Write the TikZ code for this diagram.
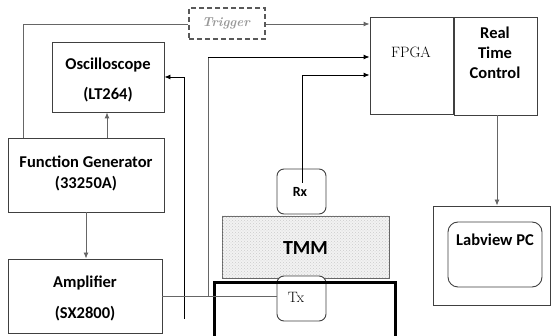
\documentclass[tikz,border=0pt]{standalone}
\usepackage{fontspec}
\newfontfamily\calfont{Carlito}
\usetikzlibrary{arrows.meta,patterns}
\begin{document}
\begin{tikzpicture}[x=1pt,y=-1pt,
  box/.style={draw=black!75,line width=0.9pt,fill=white,inner sep=0pt},
  rbox/.style={box,rounded corners=7pt},
  lbl/.style={font=\calfont\bfseries\fontsize{16.5}{30}\selectfont,align=center,inner sep=0pt},
  ln/.style={draw=black!60,line width=0.9pt},
  lnb/.style={draw=black,line width=0.9pt},
  arr/.style={-{Latex[length=6pt,width=5pt]}}
]
\useasboundingbox (0,0) rectangle (552,336);
% boxes
\node[box,minimum width=112pt,minimum height=70pt] (osc) at (108,77) {};
\node[lbl] (osct) at (108,80) {Oscilloscope\\(LT264)};
\node[box,minimum width=156pt,minimum height=74pt] (fg) at (86,175) {};
\node[lbl,font=\calfont\bfseries\fontsize{16.5}{21}\selectfont] (fgt) at (86,173) {Function Generator\\(33250A)};
\node[box,minimum width=154pt,minimum height=74pt] (amp) at (85,296) {};
\node[lbl,font=\calfont\bfseries\fontsize{16.5}{31}\selectfont] (ampt) at (85,298) {Amplifier\\(SX2800)};
\node[box,draw=black!65,line width=1.1pt,dash pattern=on 5pt off 3pt,minimum width=76pt,minimum height=31pt] (trig) at (227,23.5) {};
\node[font=\itshape\bfseries\fontsize{13}{15}\selectfont,text=black!40,inner sep=0pt] (trigt) at (226,23) {Trigger};
\node[box,minimum width=83pt,minimum height=97pt] (fpga) at (411.5,65.5) {};
\node[font=\fontsize{15}{16}\selectfont,inner sep=0pt] (fpgat) at (411,52) {FPGA};
\node[box,minimum width=83pt,minimum height=98pt] (rtc) at (495.5,66) {};
\node[lbl,font=\calfont\bfseries\fontsize{16.5}{20}\selectfont] (rtct) at (495,53) {Real\\Time\\Control};
\node[box,minimum width=117pt,minimum height=99pt] (lvout) at (492,255.5) {};
\node[rbox,minimum width=94pt,minimum height=65pt,rounded corners=10pt] (lvin) at (495,254.5) {};
\node[lbl] (lvt) at (495,240) {Labview PC};
\node[box,draw=black!60,fill=gray!10,minimum width=167pt,minimum height=62pt,
  postaction={pattern=crosshatch dots,pattern color=gray!40}] (tmm) at (305.5,247) {};
\node[font=\calfont\bfseries\fontsize{20}{22}\selectfont,inner sep=0pt] (tmmt) at (305.5,248) {TMM};
\node[rbox,minimum width=49pt,minimum height=45pt] (rx) at (301.5,191.5) {};
\node[font=\calfont\bfseries\fontsize{14}{16}\selectfont,inner sep=0pt] (rxt) at (300,192) {Rx};
\node[rbox,minimum width=49pt,minimum height=45pt] (tx) at (301.5,298.5) {};
\node[font=\fontsize{15}{16}\selectfont,inner sep=0pt] (txt) at (296,297) {Tx};
% thick box
\draw[line width=3pt] (214,345) -- (214,283) -- (395,283) -- (395,345);
% connectors
\coordinate (c1) at (184,319);
\coordinate (b1) at (208,296);
\draw[ln] (fg.north -| 23,0) -- (23,24) -- (trig.west |- 0,24);
\draw[ln,arr] (trig.east |- 0,24) -- (fpga.west |- 0,24);
\draw[ln,arr] (fg.north -| 107,0) -- (osc.south -| 107,0);
\draw[ln,arr] (fg.south -| 86,0) -- (amp.north -| 86,0);
\draw[lnb,arr] (c1) -- (184,77) -- (osc.east |- 0,77);
\draw[ln] (amp.east) -- (tx.west |- amp.east);
\draw[ln] (b1) -- (208,57);
\draw[lnb,arr] (208,57) -- (fpga.west |- 0,57);
\draw[lnb,arr] (302,183) -- (302,75) -- (fpga.west |- 0,75);
\draw[ln,arr] (rtc.south -| 497,0) -- (lvout.north -| 497,0);
\end{tikzpicture}
\end{document}
